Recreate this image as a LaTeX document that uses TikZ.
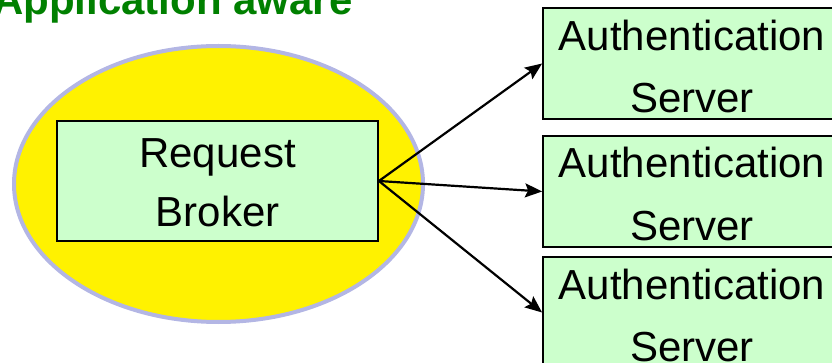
\documentclass[tikz,border=0pt]{standalone}
\usepackage{fontspec}
\setmainfont{Liberation Sans}
\usetikzlibrary{shapes.geometric,arrows.meta}
\definecolor{ringblue}{HTML}{B3B6E4}
\definecolor{boxgreen}{HTML}{CCFFCC}
\definecolor{titlegreen}{HTML}{008000}
\tikzset{
  box/.style={draw=black, line width=1.8pt, fill=boxgreen, rectangle, inner sep=0pt},
  label text/.style={font=\fontsize{42}{50}\selectfont, inner sep=0pt, anchor=base},
  link/.style={line width=2.2pt, -{Stealth[length=17pt,width=14pt,inset=3pt]}},
}
\begin{document}
\begin{tikzpicture}[x=1pt,y=-1pt]
  \useasboundingbox (0,0) rectangle (832,363);

  % heading
  \node[anchor=base west, inner sep=0pt, text=titlegreen,
        font=\fontsize{42}{50}\selectfont\bfseries] (title) at (-7,15) {Application aware};

  % application-aware region
  \node[ellipse, draw=ringblue, line width=4pt, fill=yellow, inner sep=0pt,
        minimum width=409pt, minimum height=276pt] (region) at (218.5,184) {};

  % broker
  \node[box, minimum width=321pt, minimum height=120pt] (broker) at (217.5,181) {};
  \node[label text] (brokerA) at (217.5,168) {Request};
  \node[label text] (brokerB) at (217.5,227) {Broker};

  % authentication servers
  \node[box, minimum width=291pt, minimum height=111pt] (srv1) at (688.5,63.5) {};
  \node[box, minimum width=291pt, minimum height=111pt] (srv2) at (688.5,191.5) {};
  \node[box, minimum width=291pt, minimum height=111pt] (srv3) at (688.5,312.5) {};

  \node[label text] (srv1a) at (692,51) {Authentication};
  \node[label text] (srv1b) at (692,113) {Server};
  \node[label text] (srv2a) at (692,178) {Authentication};
  \node[label text] (srv2b) at (692,241) {Server};
  \node[label text] (srv3a) at (692,299) {Authentication};
  \node[label text] (srv3b) at (692,361) {Server};

  % requests fanned out by the broker
  \draw[link] (broker.east) -- (srv1.west);
  \draw[link] (broker.east) -- (srv2.west);
  \draw[link] (broker.east) -- (srv3.west);
\end{tikzpicture}
\end{document}
